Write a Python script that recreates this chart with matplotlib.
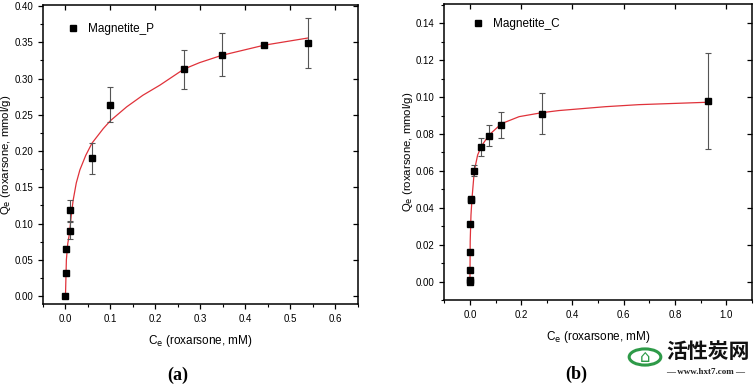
import matplotlib
matplotlib.use('Agg')
import matplotlib.pyplot as plt
from matplotlib.ticker import MultipleLocator
from matplotlib.patches import Circle

# --- data ---
# (a) Magnetite_P
ce_p = [0.000, 0.0014, 0.0015, 0.0096, 0.011, 0.059, 0.100, 0.264, 0.347, 0.441, 0.539]
qe_p = [0.000, 0.032, 0.065, 0.090, 0.118, 0.190, 0.264, 0.313, 0.333, 0.346, 0.349]
err_p = [0.000, 0.002, 0.004, 0.012, 0.015, 0.021, 0.024, 0.027, 0.030, 0.002, 0.034]
fit_p_x = [0, 0.0007, 0.002, 0.005, 0.009, 0.013, 0.017, 0.024, 0.032, 0.045, 0.059, 0.084,
           0.100, 0.136, 0.172, 0.210, 0.263, 0.298, 0.347, 0.441, 0.539]
fit_p_y = [0, 0.018, 0.050, 0.072, 0.087, 0.112, 0.132, 0.156, 0.174, 0.194, 0.211, 0.231,
           0.242, 0.261, 0.277, 0.291, 0.313, 0.322, 0.332, 0.346, 0.356]

# (b) Magnetite_C
ce_c = [0.000, 0.000, 0.000, 0.000, 0.001, 0.003, 0.004, 0.016, 0.045, 0.076, 0.123, 0.283, 0.928]
qe_c = [0.000, 0.001, 0.006, 0.016, 0.031, 0.044, 0.045, 0.060, 0.073, 0.079, 0.085, 0.091, 0.098]
err_c = [0, 0, 0, 0, 0, 0, 0, 0.003, 0.005, 0.0057, 0.007, 0.011, 0.026]
fit_c_x = [0, 0.001, 0.004, 0.008, 0.017, 0.030, 0.045, 0.075, 0.123, 0.192, 0.283, 0.347,
           0.529, 0.659, 0.928]
fit_c_y = [0, 0.022, 0.036, 0.045, 0.060, 0.0686, 0.0735, 0.0795, 0.0856, 0.0894, 0.0916,
           0.0927, 0.0948, 0.0959, 0.0972]

FONT = ['Liberation Sans Narrow', 'Liberation Sans', 'DejaVu Sans']
plt.rcParams['font.family'] = FONT
plt.rcParams['font.size'] = 8

fig = plt.figure(figsize=(7.54, 3.85), dpi=100)


def style_axes(ax):
    for s in ax.spines.values():
        s.set_linewidth(1.1)
    ax.tick_params(axis='both', which='major', direction='out', length=3.5, width=0.9,
                   labelsize=7, top=False, right=False)
    ax.tick_params(axis='both', which='minor', direction='out', length=2, width=0.8,
                   top=False, right=False)
    # mirrored major ticks pointing inward, Origin style
    secx = ax.secondary_xaxis('top')
    secx.set_xticks(ax.get_xticks())
    secx.tick_params(direction='in', length=3.5, width=0.9, labeltop=False)
    secx.spines['top'].set_visible(False)
    secy = ax.secondary_yaxis('right')
    secy.set_yticks(ax.get_yticks())
    secy.tick_params(direction='in', length=3.5, width=0.9, labelright=False)
    secy.spines['right'].set_visible(False)


def panel(ax, x, y, err, fx, fy, name):
    ax.plot(fx, fy, color='#e0323a', lw=0.9, zorder=2)
    ax.errorbar(x, y, yerr=err, fmt='none', ecolor='#555555', elinewidth=0.8,
                capsize=2, capthick=0.8, zorder=3)
    ax.plot(x, y, 's', color='black', ms=4.5, label=name, zorder=4)
    ax.set_xlabel('C$_{\\mathrm{e}}$ (roxarsone, mM)', fontsize=8.5, labelpad=7)
    ax.set_ylabel('Q$_{\\mathrm{e}}$ (roxarsone, mmol/g)', fontsize=8.2)


# ---- panel (a) ----
ax1 = fig.add_axes([0.057, 0.2104, 0.4178, 0.7766])
panel(ax1, ce_p, qe_p, err_p, fit_p_x, fit_p_y, 'Magnetite_P')
ax1.set_xlim(-0.05, 0.65)
ax1.set_ylim(-0.011, 0.4015)
ax1.xaxis.set_minor_locator(MultipleLocator(0.05))
ax1.yaxis.set_minor_locator(MultipleLocator(0.025))
ax1.set_xticks([0, 0.1, 0.2, 0.3, 0.4, 0.5, 0.6])
ax1.set_yticks([0, 0.05, 0.1, 0.15, 0.2, 0.25, 0.3, 0.35, 0.4])
ax1.xaxis.set_major_formatter(lambda v, p: f'{v:.1f}')
ax1.yaxis.set_major_formatter(lambda v, p: f'{v:.2f}')
ax1.yaxis.set_label_coords(-0.095, 0.5)
style_axes(ax1)
ax1.legend(loc='upper left', bbox_to_anchor=(0.045, 0.975), frameon=False,
           handlelength=0.8, handletextpad=0.9, numpoints=1, fontsize=8.5)

# ---- panel (b) ----
ax2 = fig.add_axes([0.5893, 0.2208, 0.4077, 0.768])
panel(ax2, ce_c, qe_c, err_c, fit_c_x, fit_c_y, 'Magnetite_C')
ax2.set_xlim(-0.1, 1.1)
ax2.set_ylim(-0.01, 0.1503)
ax2.xaxis.set_minor_locator(MultipleLocator(0.1))
ax2.yaxis.set_minor_locator(MultipleLocator(0.01))
ax2.set_xticks([0, 0.2, 0.4, 0.6, 0.8, 1.0])
ax2.set_yticks([0, 0.02, 0.04, 0.06, 0.08, 0.1, 0.12, 0.14])
ax2.xaxis.set_major_formatter(lambda v, p: f'{v:.1f}')
ax2.yaxis.set_major_formatter(lambda v, p: f'{v:.2f}')
ax2.yaxis.set_label_coords(-0.095, 0.5)
style_axes(ax2)
ax2.legend(loc='upper left', bbox_to_anchor=(0.06, 0.99), frameon=False,
           handlelength=0.8, handletextpad=0.9, numpoints=1, fontsize=8.5)

# panel letters
fig.text(178 / 754, 1 - 375 / 385, '(a)', family='Liberation Serif', weight='bold',
         fontsize=13, ha='center', va='center')
fig.text(576 / 754, 1 - 374 / 385, '(b)', family='Liberation Serif', weight='bold',
         fontsize=13, ha='center', va='center')

# watermark
fig.patches.append(Circle((645 / 754, 1 - 357 / 385), 0.021, transform=fig.transFigure,
                          fill=False, ec='#2e9a48', lw=2.2))
fig.text(645 / 754, 1 - 357 / 385, '⌂', color='#2e9a48', fontsize=12,
         ha='center', va='center', family='DejaVu Sans')
fig.text(708 / 754, 1 - 352 / 385, '活性炭网', family=['Noto Sans CJK SC', 'DejaVu Sans'],
         weight='bold', fontsize=15, ha='center', va='center', color='#111111')
fig.text(706 / 754, 1 - 372 / 385, '— www.hxt7.com —', family='Liberation Serif',
         weight='bold', fontsize=6.5, ha='center', va='center', color='#222222')

fig.savefig('out.png', dpi=100)
